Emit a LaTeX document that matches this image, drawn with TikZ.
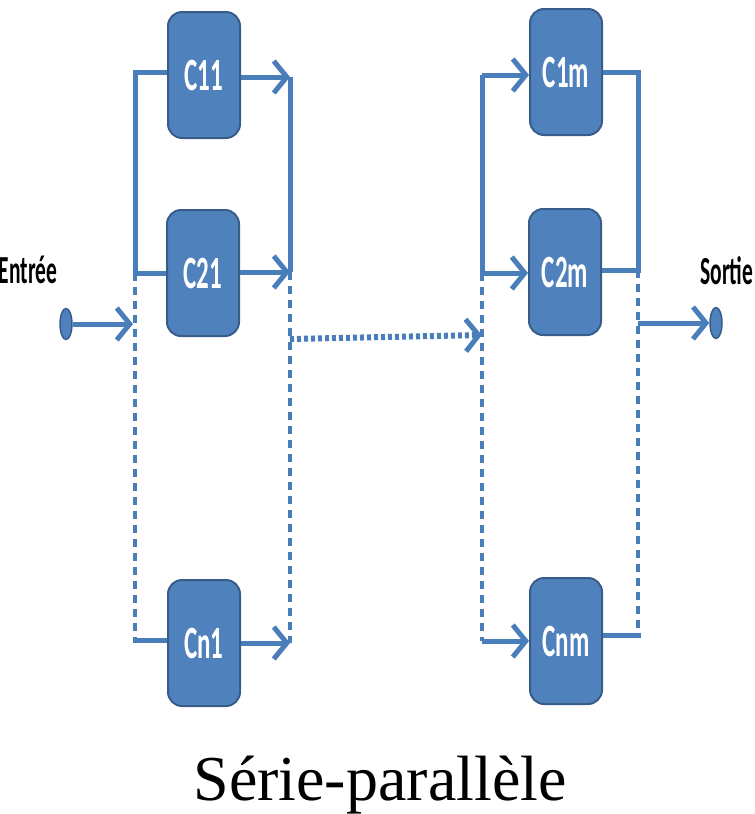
\documentclass[tikz,border=0pt]{standalone}
\usepackage{fontspec}
\setmainfont{Liberation Serif}
\newfontfamily\labfont{Carlito}
\usetikzlibrary{arrows.meta,shapes.geometric}
\definecolor{boxfill}{HTML}{4F81BD}
\definecolor{boxdraw}{HTML}{385D8A}
\definecolor{wire}{HTML}{4A7EBB}
\begin{document}
\begin{tikzpicture}[x=1pt,y=-1pt,
  comp/.style={draw=boxdraw,line width=2pt,fill=boxfill,rounded corners=14pt,
    minimum width=72pt,minimum height=126pt,inner sep=0pt,text=white,
    font=\labfont\bfseries\fontsize{25}{25}\selectfont},
  wire/.style={draw=wire,line width=5pt},
  dwire/.style={draw=wire,line width=3.5pt,dash pattern=on 8pt off 6pt},
  mwire/.style={draw=wire,line width=6pt,dash pattern=on 4pt off 3pt},
  arr/.style={-{Straight Barb[length=13pt,width=32pt,line width=5pt]}},
  term/.style={ellipse,draw=boxdraw,line width=1.5pt,fill=boxfill,minimum width=12pt,minimum height=31pt,inner sep=0pt},
  io/.style={font=\labfont\bfseries\fontsize{21.5}{21.5}\selectfont,text=black}
]
\useasboundingbox (0,0) rectangle (755,814);
\newcommand{\stretchlab}[1]{\scalebox{1}[1.85]{#1}}
% components
\node[comp] (c11) at (204,75) {\stretchlab{C11}};
\node[comp] (c21) at (203,273) {\stretchlab{C21}};
\node[comp] (cn1) at (204,643) {\stretchlab{Cn1}};
\node[comp] (c1m) at (566,72) {\stretchlab{C1m}};
\node[comp] (c2m) at (565,272) {\stretchlab{C2m}};
\node[comp] (cnm) at (566,641) {\stretchlab{Cnm}};
% terminals
\node[term] (in) at (66,324) {};
\node[term] (out) at (716,323) {};
\node[io] (ent) at (28,270) {\stretchlab{Entrée}};
\node[io] (sor) at (727,271) {\stretchlab{Sortie}};
% left input bus
\coordinate (a1) at (135,72);
\coordinate (a2) at (135,273);
\coordinate (a3) at (135,640);
\coordinate (ain) at (133,324);
% left output bus
\coordinate (b1) at (290,77);
\coordinate (b2) at (290,272);
\coordinate (b3) at (290,643);
\coordinate (bm) at (290,339);
% right input bus
\coordinate (r1) at (482,75);
\coordinate (r2) at (482,273);
\coordinate (r3) at (482,641);
\coordinate (rm) at (482,335);
% right output bus
\coordinate (s1) at (638,72);
\coordinate (s2) at (638,270);
\coordinate (s3) at (638,635);
\coordinate (sout) at (638,323);
% entry
\draw[wire,arr] (in.east) -- (ain);
% left column
\draw[wire] ([xshift=-2.5pt]a1) -- (c11.west |- a1);
\draw[wire] (a1) -- (a2);
\draw[wire] ([xshift=-2.5pt]a2) -- (c21.west |- a2);
\draw[dwire] (a2) -- (a3);
\draw[wire] ([xshift=-2.5pt]a3) -- (cn1.west |- a3);
\draw[wire,arr] (c11.east |- b1) -- (b1);
\draw[wire] (b1) -- (b2);
\draw[wire,arr] (c21.east |- b2) -- (b2);
\draw[dwire] (b2) -- (b3);
\draw[wire,arr] (cn1.east |- b3) -- (b3);
% middle
\draw[mwire,arr] (bm) -- (rm);
% right column
\draw[wire,arr] (r1) -- (c1m.west |- r1);
\draw[wire] (r1) -- (r2);
\draw[wire,arr] (r2) -- (c2m.west |- r2);
\draw[dwire] (r2) -- (r3);
\draw[wire,arr] (r3) -- (cnm.west |- r3);
\draw[wire] (c1m.east |- s1) -- ([xshift=2.5pt]s1);
\draw[wire] (s1) -- (s2);
\draw[wire] (c2m.east |- s2) -- ([xshift=2.5pt]s2);
\draw[dwire] (s2) -- (s3);
\draw[wire] (cnm.east |- s3) -- ([xshift=2.5pt]s3);
\draw[wire,arr] (sout) -- (out.west);
% caption
\node[anchor=base,font=\fontsize{64}{64}\selectfont,inner sep=0pt] (cap) at (380,800) {Série-parallèle};
\end{tikzpicture}
\end{document}
